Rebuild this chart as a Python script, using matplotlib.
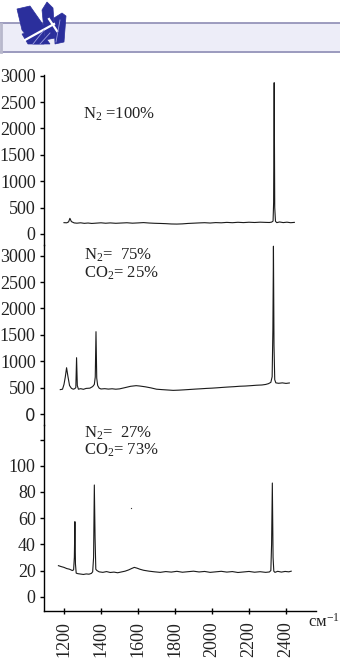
import matplotlib
matplotlib.use("Agg")
import matplotlib.pyplot as plt
from matplotlib.patches import Polygon, Rectangle
from matplotlib.lines import Line2D

plt.rcParams['font.family'] = ['Liberation Serif', 'DejaVu Sans']
plt.rcParams['mathtext.fontset'] = 'custom'
plt.rcParams['mathtext.rm'] = 'Liberation Serif'
plt.rcParams['mathtext.it'] = 'Liberation Serif:italic'

# ---------------- data ----------------
wn1 = [1200, 1215, 1225, 1232, 1240, 1255, 1270, 1290, 1310, 1330, 1350, 1375, 1400,
       1425, 1450, 1480, 1510, 1540, 1570, 1600, 1630, 1660, 1690, 1720, 1750, 1780,
       1810, 1840, 1870, 1900, 1930, 1960, 1990, 2020, 2050, 2080, 2110, 2140, 2170,
       2200, 2230, 2260, 2290, 2310, 2322, 2330, 2333, 2336, 2339, 2343, 2350, 2365,
       2385, 2405, 2425, 2445]
int1 = [215, 212, 230, 297, 235, 210, 205, 212, 202, 208, 200, 206, 212,
        204, 210, 203, 208, 213, 205, 210, 216, 208, 203, 200, 196, 190,
        188, 192, 200, 205, 210, 214, 208, 216, 212, 220, 214, 222, 216,
        223, 218, 224, 220, 218, 225, 245, 600, 2867, 500, 240, 215, 228,
        216, 224, 214, 220]

wn2 = [1180, 1192, 1200, 1207, 1214, 1221, 1230, 1240, 1250, 1258, 1264, 1268, 1272,
       1278, 1290, 1305, 1320, 1340, 1355, 1364, 1369, 1373, 1377, 1382, 1390, 1400,
       1420, 1440, 1460, 1480, 1500, 1530, 1560, 1590, 1610, 1640, 1670, 1700, 1730,
       1760, 1790, 1820, 1850, 1880, 1910, 1940, 1970, 2000, 2030, 2060, 2090, 2120,
       2150, 2180, 2210, 2240, 2270, 2290, 2305, 2318, 2325, 2329, 2332, 2335, 2339,
       2345, 2360, 2380, 2400, 2418]
int2 = [462, 470, 560, 700, 877, 720, 540, 487, 470, 480, 500, 1067, 540,
        470, 480, 468, 485, 490, 520, 560, 700, 1560, 680, 540, 490, 474,
        480, 472, 478, 470, 476, 500, 525, 537, 530, 515, 495, 470, 462,
        455, 448, 452, 458, 465, 472, 478, 485, 490, 497, 505, 512, 518,
        526, 530, 537, 545, 550, 560, 575, 600, 707, 1600, 3180, 1300, 650,
        590, 582, 590, 580, 588]

wn3 = [1170, 1185, 1200, 1215, 1230, 1245, 1252, 1256, 1259, 1262, 1266, 1275, 1290,
       1305, 1320, 1335, 1348, 1355, 1360, 1364, 1368, 1372, 1378, 1390, 1410, 1430,
       1450, 1470, 1490, 1510, 1530, 1550, 1565, 1580, 1595, 1610, 1630, 1660, 1690,
       1720, 1750, 1780, 1810, 1840, 1870, 1900, 1930, 1960, 1990, 2020, 2050, 2080,
       2110, 2140, 2170, 2200, 2230, 2260, 2290, 2310, 2318, 2322, 2326, 2330, 2334,
       2340, 2355, 2375, 2395, 2415, 2428]
int3 = [23.7, 23.0, 22.4, 21.5, 21.0, 20.0, 20.5, 30.0, 57.3, 25.0, 18.0, 17.6, 17.3,
        17.0, 17.4, 17.2, 17.8, 19.0, 30.0, 85.3, 45.0, 21.0, 20.0, 19.0, 18.6, 19.2,
        18.5, 18.8, 18.3, 18.9, 19.5, 20.5, 21.5, 22.4, 21.8, 21.0, 20.2, 19.5, 19.0,
        18.6, 19.2, 18.8, 19.4, 18.7, 19.1, 19.5, 18.9, 19.3, 18.6, 19.0, 19.4, 18.8,
        19.2, 18.5, 18.9, 19.3, 18.7, 19.1, 18.6, 18.9, 20.0, 40.0, 86.8, 30.0, 19.5,
        18.6, 19.4, 18.8, 19.3, 19.0, 19.5]

spot_wn = [1560]
spot_val = [67.5]

labels1 = ["N$_2$ =100%"]
labels2 = ["N$_2$=  75%", "CO$_2$= 25%"]
labels3 = ["N$_2$=  27%", "CO$_2$= 73%"]

yt1 = [0, 500, 1000, 1500, 2000, 2500, 3000]
yt2 = [0, 500, 1000, 1500, 2000, 2500, 3000]
yt3 = [0, 20, 40, 60, 80, 100, 120]
xt = [1200, 1400, 1600, 1800, 2000, 2200, 2400]
x_unit = "см$^{-1}$"

# ---------------- layout ----------------
W, H = 340, 661
fig = plt.figure(figsize=(W / 100, H / 100), dpi=100)

def box(top, bot):
    return [44 / W, 1 - bot / H, (316 - 44) / W, (bot - top) / H]

ax1 = fig.add_axes(box(75, 245))
ax2 = fig.add_axes(box(245, 425))
ax3 = fig.add_axes(box(425, 611))

XL = (1092, 2562)
FS = 13
for ax in (ax1, ax2, ax3):
    ax.set_xlim(*XL)
    ax.patch.set_alpha(0)
    for s in ('top', 'right', 'bottom'):
        ax.spines[s].set_visible(False)
    ax.spines['left'].set_linewidth(1.0)
    ax.tick_params(axis='y', direction='out', length=3, width=1, pad=3, labelsize=FS,
                   labelcolor='#222222')
    ax.tick_params(axis='x', bottom=False, labelbottom=False)

ax1.plot(wn1, int1, color='#1a1a1a', lw=0.8)
ax2.plot(wn2, int2, color='#1a1a1a', lw=0.8)
ax3.plot(wn3, int3, color='#1a1a1a', lw=0.8)
ax3.plot(spot_wn, spot_val, 'o', color='#333333', ms=0.9, mew=0)

ax1.set_ylim(-208.5, 3013)
ax2.set_ylim(-208.5, 3203)
ax3.set_ylim(-10.9, 131.1)

ax1.set_yticks(yt1)
ax1.set_yticklabels([str(v) for v in yt1])
ax2.set_yticks(yt2)
ax2.set_yticklabels([str(v) for v in yt2])
ax2.get_yticklabels()[0].set_fontfamily('DejaVu Sans')
ax2.get_yticklabels()[0].set_fontsize(12)
ax3.set_yticks(yt3)
ax3.set_yticklabels([str(v) if v <= 100 else "" for v in yt3])

ax3.spines['bottom'].set_visible(True)
ax3.spines['bottom'].set_linewidth(1.0)
ax3.tick_params(axis='x', bottom=True, labelbottom=True, direction='inout',
                length=5, width=1, pad=5, labelsize=FS, labelrotation=90,
                labelcolor='#222222')
ax3.set_xticks(xt)
ax3.set_xticklabels([str(v) for v in xt])

fig.text(308 / W, 1 - 622 / H, x_unit, fontsize=12, ha='left', va='center', color='#222222')

def ftext(x, y, s):
    fig.text(x / W, 1 - y / H, s, fontsize=12, ha='left', va='center', color='#222222')

ftext(83, 114, labels1[0])
ftext(84, 255, labels2[0])
ftext(84, 273, labels2[1])
ftext(84, 433, labels3[0])
ftext(84, 450, labels3[1])

# ---------------- header ----------------
def px(pts):
    return [(x / W, 1 - y / H) for x, y in pts]

fig.patches.append(Rectangle((0, 1 - 52.5 / H), 1, 29.5 / H, transform=fig.transFigure,
                             facecolor='#ededf8', edgecolor='none', zorder=0))
fig.lines.append(Line2D([0, 1], [1 - 23.3 / H] * 2, transform=fig.transFigure,
                        color='#8e8cb4', lw=1.2))
fig.lines.append(Line2D([0, 1], [1 - 52.3 / H] * 2, transform=fig.transFigure,
                        color='#8e8cb4', lw=1.2))
fig.lines.append(Line2D([1 / W, 1 / W], [1 - 52 / H, 1 - 24 / H], transform=fig.transFigure,
                        color='#b8b8cc', lw=2))

blue = '#2b2f9c'
shapes = [
    [(17, 9), (30, 6), (44, 26), (44, 44), (33, 44), (22, 30)],
    [(42, 10), (47, 2), (53, 8), (55, 38), (45, 40)],
    [(54, 18), (62, 13), (66, 16), (64, 42), (55, 44)],
    [(22, 34), (40, 30), (50, 44), (28, 44)],
]
for sh in shapes:
    fig.patches.append(Polygon(px(sh), closed=True, transform=fig.transFigure,
                               facecolor=blue, edgecolor=blue, lw=0.5, zorder=2))
for (a, b) in [((25, 40), (54, 24)), ((49, 19), (57, 31))]:
    fig.lines.append(Line2D([a[0] / W, b[0] / W], [1 - a[1] / H, 1 - b[1] / H],
                            transform=fig.transFigure, color='white', lw=1.6, zorder=3))
for (a, b) in [((33, 44), (44, 30)), ((40, 44), (50, 33)), ((56, 42), (60, 20))]:
    fig.lines.append(Line2D([a[0] / W, b[0] / W], [1 - a[1] / H, 1 - b[1] / H],
                            transform=fig.transFigure, color='#9ea0e0', lw=0.6, zorder=3))

fig.savefig('out.png', dpi=100)
